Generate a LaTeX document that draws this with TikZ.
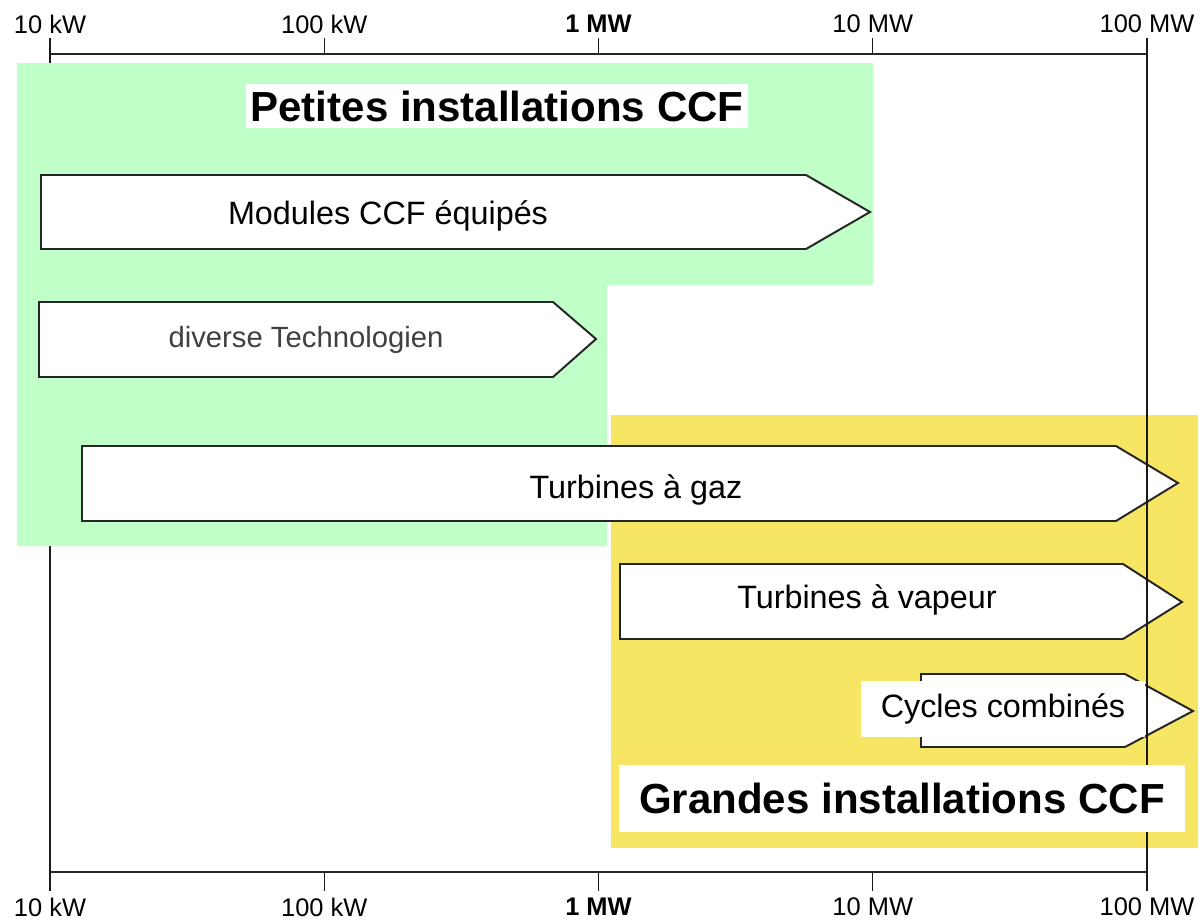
\documentclass[tikz,border=0pt]{standalone}
\usepackage{fontspec}
\setmainfont{Liberation Sans}
\definecolor{petit}{RGB}{192,255,200}
\definecolor{grand}{RGB}{247,230,100}
\tikzset{ax/.style={line width=1.4pt,black!85},fr/.style={line width=0.9pt,black!90},
 arr/.style={draw=black!85,line width=1.4pt,fill=white,line join=miter},
 txt/.style={font=\fontsize{23}{26}\selectfont,inner sep=0pt},
 ttl/.style={fill=white,font=\bfseries\fontsize{29.9}{32}\selectfont,inner sep=0pt},
 tck/.style={font=\fontsize{18.1}{20}\selectfont,inner sep=0pt}}
\begin{document}
\begin{tikzpicture}[x=0.025cm,y=-0.025cm]
\useasboundingbox (0,0) rectangle (1203,922);
\fill[grand] (611,415) rectangle (1198,848);
\draw[ax] (50,54) -- (1147,54); \draw[ax] (50,872) -- (1147,872);
\foreach \i/\t in {0/10 kW,1/100 kW,2/\textbf{1 MW},3/10 MW,4/100 MW}{
 \draw[fr] (50+274.25*\i,38) -- (50+274.25*\i,54);
 \draw[fr] (50+274.25*\i,872) -- (50+274.25*\i,891);
 \node[tck](top\i) at (50+274.25*\i,24){\t};
 \node[tck](bot\i) at (50+274.25*\i,907){\t};}
\draw[fr] (50,54) -- (50,872);
\fill[petit] (17,63) -- (873,63) -- (873,285) -- (607,285) -- (607,546) -- (17,546) -- cycle;
% les fleches
\draw[arr] (41,175) -- (806,175) -- (870,212) -- (806,249) -- (41,249) -- cycle;
\draw[arr] (39,302) -- (553,302) -- (596,339) -- (553,377) -- (39,377) -- cycle;
\draw[arr] (82,446) -- (1116,446) -- (1178,483) -- (1116,521) -- (82,521) -- cycle;
\draw[arr] (620,564) -- (1123,564) -- (1182,602) -- (1123,639) -- (620,639) -- cycle;
\draw[arr] (921,674) -- (1125,674) -- (1193,711) -- (1125,747) -- (921,747) -- cycle;
\draw[fr] (1147,54) -- (1147,872);
\node[txt](mod) at (388,216){Modules CCF équipés};
\node[txt,font=\fontsize{20.8}{24}\selectfont,text=black!75](div) at (306,340){diverse Technologien};
\node[txt](tg) at (636,490){Turbines à gaz};
\node[txt](tv) at (867,600){Turbines à vapeur};
\node[txt,fill=white,minimum width=7.1cm,minimum height=1.4cm](cc) at (1003,709){Cycles combinés};
\node[ttl,minimum width=12.55cm,minimum height=1.1cm](pt) at (497,106){Petites installations CCF};
\node[ttl,minimum width=14.125cm,minimum height=1.675cm](gd) at (902,798){Grandes installations CCF};
\end{tikzpicture}
\end{document}
